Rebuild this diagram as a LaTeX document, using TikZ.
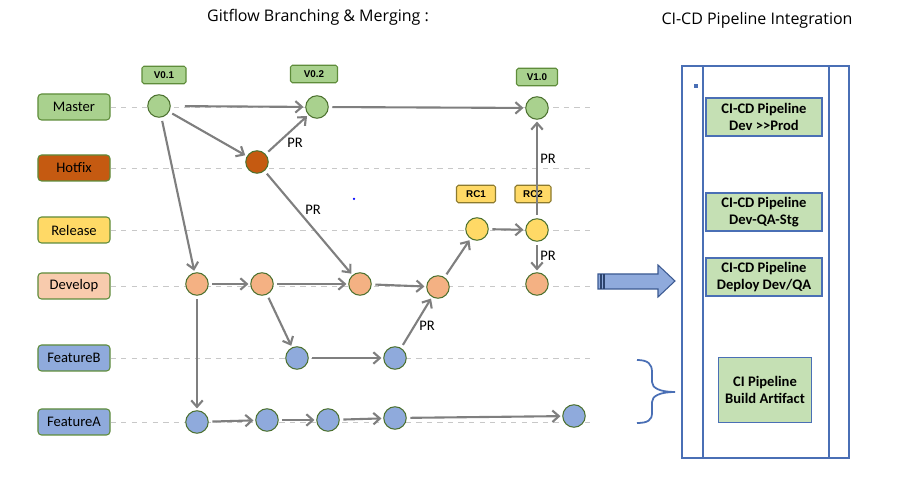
\documentclass[tikz,border=0pt]{standalone}
\usepackage{fontspec}
\setmainfont{Carlito}
\newfontfamily\titlefont{Open Sans}
\newfontfamily\tagfont{Liberation Sans}
\usetikzlibrary{arrows.meta}
\definecolor{masterfill}{HTML}{A9D18E}
\definecolor{hotfixfill}{HTML}{C55A11}
\definecolor{releasefill}{HTML}{FFD966}
\definecolor{developfill}{HTML}{F8CBAD}
\definecolor{developdot}{HTML}{F4B183}
\definecolor{featurefill}{HTML}{8FAADC}
\definecolor{greenline}{HTML}{5E8C3A}
\definecolor{rcline}{HTML}{8C7A2E}
\definecolor{flowgray}{HTML}{7F7F7F}
\definecolor{rowgray}{HTML}{C8C8C8}
\definecolor{panelblue}{HTML}{4A6FB5}
\definecolor{pipefill}{HTML}{C5E0B4}
\begin{document}
\begin{tikzpicture}[x=0.2mm, y=-0.2mm,
    branch/.style={rectangle, rounded corners=2pt, draw=greenline, line width=0.6pt, minimum width=14.4mm, minimum height=5.2mm, inner sep=0pt, font=\fontsize{8.3}{9.6}\selectfont},
    commit/.style={circle, draw=greenline!80!black, line width=0.6pt, minimum size=4.5mm, inner sep=0pt},
    tag/.style={rectangle, rounded corners=1pt, draw=greenline, fill=masterfill, line width=0.6pt, minimum width=8.8mm, minimum height=3.5mm, inner sep=0pt, font=\tagfont\bfseries\fontsize{5.6}{6}\selectfont},
    rctag/.style={tag, draw=rcline, fill=releasefill, minimum width=7.8mm},
    rowline/.style={draw=rowgray, dashed, line width=0.5pt},
    flow/.style={draw=flowgray, line width=1.2pt, -{Straight Barb[length=1.3mm, width=2.3mm]}, shorten <=2pt, shorten >=1pt},
    prlabel/.style={font=\fontsize{8.3}{9.6}\selectfont, inner sep=1pt},
    pipe/.style={rectangle, draw=panelblue, fill=pipefill, line width=0.6pt, minimum width=23.2mm, minimum height=7.6mm, inner sep=1pt, align=center, font=\bfseries\fontsize{8.3}{9.8}\selectfont}
]
\useasboundingbox (0,0) rectangle (900,489);

% Titoli
\node[font=\titlefont\fontsize{9.1}{11}\selectfont] (title1) at (318,17) {Gitflow Branching \& Merging :};
\node[font=\titlefont\fontsize{9.1}{11}\selectfont] (title2) at (757,20) {CI-CD Pipeline Integration};

% Rami
\foreach \name/\txt/\y/\col in {master/Master/107/masterfill, hotfix/Hotfix/168/hotfixfill, release/Release/230/releasefill, develop/Develop/286/developfill, featb/FeatureB/358/featurefill, feata/FeatureA/422/featurefill} {
    \node[branch, fill=\col] (\name) at (74,\y) {\txt};
    \coordinate (\name end) at (592,\y);
    \draw[rowline] (\name) -- (\name end);
}

% Tag
\node[tag] (v01) at (164,75) {V0.1};
\node[tag, minimum width=9.4mm] (v02) at (314,74) {V0.2};
\node[tag, minimum width=8.2mm] (v10) at (537,77) {V1.0};
\node[rctag] (rc1) at (476,194) {RC1};
\node[rctag, minimum width=7.2mm] (rc2) at (533,194) {RC2};

% Commit
\foreach \n/\x/\y/\col in {m1/159/106/masterfill, m2/317/107/masterfill, m3/537/108/masterfill,
    h1/257/162/hotfixfill, r1/477/229/releasefill, r2/537/230/releasefill,
    d1/197/284/developdot, d2/262/284/developdot, d3/360/284/developdot, d4/438/287/developdot, d5/537/284/developdot,
    b1/297/358/featurefill, b2/395/358/featurefill,
    a1/197/422/featurefill, a2/267/420/featurefill, a3/328/420/featurefill, a4/395/418/featurefill, a5/574/416/featurefill} {
    \node[commit, fill=\col] (\n) at (\x,\y) {};
}

% Merge
\draw[flow, shorten <=8pt] (m1) -- (m2);
\foreach \a/\b in {m2/m3, m1/h1, h1/m2, h1/d3, m1/d1, d1/d2, d2/d3, d3/d4, d4/r1, r1/r2, r2/m3, r2/d5,
    d2/b1, b1/b2, b2/d4, d1/a1, a1/a2, a2/a3, a3/a4, a4/a5} {
    \draw[flow] (\a) -- (\b);
}
\node[prlabel] (pr1) at (295,143) {PR};
\node[prlabel] (pr2) at (313,210) {PR};
\node[prlabel] (pr3) at (548,159) {PR};
\node[prlabel] (pr4) at (548,256) {PR};
\node[prlabel] (pr5) at (427,326) {PR};
\fill[blue] (354,199) circle (0.25mm);

% Pipeline
\draw[panelblue, line width=0.6pt] (682,66) rectangle (849,458);
\draw[panelblue, line width=0.6pt] (703,66) -- (703,458);
\draw[panelblue, line width=0.6pt] (829,66) -- (829,458);
\fill[panelblue] (694,84) rectangle (698,88);
\node[pipe] (prod) at (764,117) {CI-CD Pipeline\\Dev {>}{>}Prod};
\node[pipe] (stg) at (764,212) {CI-CD Pipeline\\Dev-QA-Stg};
\node[pipe] (devqa) at (764,277) {CI-CD Pipeline\\Deploy Dev/QA};
\node[pipe, minimum width=18.6mm, minimum height=13mm] (build) at (765,390) {CI Pipeline\\Build Artifact};

% Freccia e graffa
\draw[panelblue!80!black, fill=featurefill, line width=0.6pt] (598,274) -- (658,274) -- (658,265) -- (675,281) -- (658,297) -- (658,289) -- (598,289) -- cycle;
\draw[panelblue!60!black, line width=0.8pt] (601,274) -- (601,289) (604,274) -- (604,289);
\coordinate (bracetop) at (637,360);
\coordinate (bracetip) at (675,392);
\coordinate (bracebot) at (637,423);
\draw[panelblue, line width=1pt] (bracetop) .. controls (648,360) and (652,364) .. (652,372) -- (652,382)
    .. controls (652,388) and (660,392) .. (bracetip) .. controls (660,392) and (652,396) .. (652,402)
    -- (652,413) .. controls (652,420) and (648,423) .. (bracebot);
\end{tikzpicture}
\end{document}
